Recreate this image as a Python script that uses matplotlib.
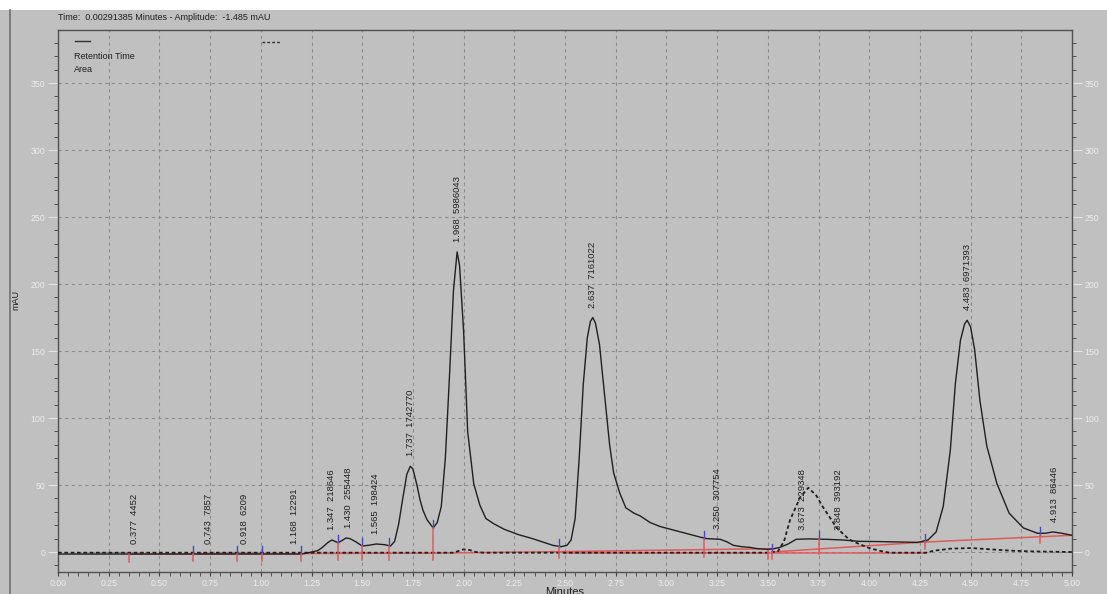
import numpy as np
import matplotlib.pyplot as plt
from matplotlib.ticker import MultipleLocator, FormatStrFormatter
from matplotlib.lines import Line2D
from matplotlib.patches import Rectangle

plt.rcParams['font.family'] = ['Liberation Sans', 'DejaVu Sans']

# solid trace, minutes / mAU
t_main = [0.00, 0.30, 0.60, 0.90, 1.10, 1.20, 1.22, 1.25, 1.28, 1.30, 1.33, 1.35,
          1.38, 1.40, 1.42, 1.44, 1.47, 1.50, 1.53, 1.57, 1.61, 1.64, 1.66, 1.68,
          1.70, 1.72, 1.737, 1.75, 1.77, 1.785, 1.80, 1.82, 1.85, 1.87, 1.89, 1.91,
          1.93, 1.95, 1.968, 1.98, 2.00, 2.02, 2.05, 2.08, 2.11, 2.15, 2.20, 2.27,
          2.34, 2.40, 2.44, 2.48, 2.51, 2.53, 2.55, 2.57, 2.59, 2.61, 2.625, 2.637,
          2.65, 2.67, 2.70, 2.72, 2.74, 2.77, 2.80, 2.84, 2.87, 2.92, 2.97, 3.02,
          3.07, 3.12, 3.17, 3.20, 3.265, 3.30, 3.33, 3.37, 3.41, 3.45, 3.50, 3.53,
          3.56, 3.60, 3.64, 3.70, 3.79, 3.87, 3.95, 4.05, 4.15, 4.24, 4.29, 4.33,
          4.365, 4.40, 4.425, 4.45, 4.47, 4.483, 4.50, 4.52, 4.546, 4.58, 4.63, 4.69,
          4.76, 4.83, 4.87, 4.905, 4.95, 5.00]
y_main = [-1.5, -1.5, -1.5, -1.5, -1.5, -1.5, -1.0, 0.0, 1.0, 3.0, 7.0, 9.0,
          7.0, 8.5, 10.5, 10.0, 7.5, 4.5, 5.0, 6.0, 5.5, 4.5, 8.0, 21.0,
          40.0, 58.0, 64.0, 62.0, 50.0, 39.0, 31.0, 24.0, 18.0, 22.0, 34.0, 70.0,
          130.0, 195.0, 224.0, 214.0, 165.0, 90.0, 51.0, 35.0, 25.0, 21.0, 17.0, 13.0,
          10.0, 7.0, 5.0, 4.0, 5.0, 9.0, 25.0, 70.0, 125.0, 160.0, 172.0, 175.0,
          171.0, 155.0, 110.0, 80.0, 59.0, 44.0, 33.0, 29.0, 27.0, 22.0, 19.0, 17.0,
          15.0, 13.0, 11.0, 10.0, 9.5, 7.5, 5.0, 4.0, 3.5, 2.5, 2.0, 2.5,
          3.5, 6.0, 9.5, 9.8, 9.5, 9.0, 8.0, 7.8, 7.5, 7.2, 9.0, 15.0,
          34.0, 76.0, 126.0, 158.0, 170.0, 173.0, 168.0, 151.0, 113.0, 79.0, 51.0, 29.0,
          18.0, 14.0, 14.0, 15.0, 14.0, 12.5]

# dotted trace
t_dot = [0.00, 0.50, 1.00, 1.50, 1.95, 1.98, 2.00, 2.03, 2.06, 2.10, 2.50, 3.00,
         3.50, 3.55, 3.58, 3.61, 3.66, 3.70, 3.74, 3.77, 3.84, 3.90, 3.95, 4.00,
         4.05, 4.10, 4.28, 4.32, 4.40, 4.50, 4.60, 4.70, 4.80, 5.00]
y_dot = [-0.5, -0.5, -0.5, -0.5, -0.5, 1.0, 2.0, 1.5, 0.0, -0.5, -0.5, -0.5,
         -0.5, 0.5, 8.0, 24.0, 41.0, 48.0, 42.0, 34.0, 18.0, 9.5, 6.0, 3.0,
         1.0, -0.5, -0.5, 1.0, 2.5, 3.0, 2.0, 1.0, 0.5, 0.0]

# integration baselines (red)
base1_t = [0.35, 1.85, 2.47]
base1_y = [-1.5, -0.8, 0.3]
base2_t = [2.47, 3.52]
base2_y = [0.3, 2.5]
base3_t = [3.52, 4.28]
base3_y = [0.0, 7.5]
base4_t = [4.28, 5.00]
base4_y = [7.5, 12.5]
base5_t = [2.50, 4.28]
base5_y = [-0.5, -0.5]

# peak start/end markers
mark_t = [0.667, 0.883, 1.006, 1.197, 1.379, 1.50, 1.63, 1.847, 2.47, 3.185, 3.52, 3.75, 4.275, 4.84]
mark_top = [-1.5, -1.5, -1.5, -1.5, 7.0, 4.5, 4.5, 18.0, 4.0, 10.0, 0.0, 9.5, 7.5, 13.0]
mark_base = [-1.5, -1.5, -1.5, -1.5, -1.0, -1.0, -0.8, -0.8, 0.3, 1.5, 0.0, 3.5, 7.5, 11.5]
red_only_t = [0.35, 3.50]
red_only_y = [-1.5, 1.0]

# peak labels
peak_rt = [0.377, 0.743, 0.918, 1.168, 1.347, 1.430, 1.565, 1.737, 1.968, 2.637,
           3.250, 3.673, 3.848, 4.483, 4.913]
peak_area = [4452, 7857, 6209, 12291, 218646, 255448, 198424, 1742770, 5986043, 7161022,
             307754, 229348, 393192, 6971393, 86446]
peak_height = [-1.5, -1.5, -1.5, -1.5, 9.0, 10.5, 6.0, 64.0, 224.0, 175.0,
               10.0, 9.0, 9.0, 173.0, 15.0]

bg = '#c0c0c0'
fig = plt.figure(figsize=(11.07, 5.94), dpi=100, facecolor=bg)
fig.patches.append(Rectangle((0, 1 - 10 / 594), 1, 10 / 594, transform=fig.transFigure,
                             facecolor='white', edgecolor='none'))
fig.lines.append(Line2D([9.5 / 1107, 9.5 / 1107], [0, 1 - 10 / 594], transform=fig.transFigure,
                        color='#707070', lw=1.2))

ax = fig.add_axes([58 / 1107, 1 - 572 / 594, (1072 - 58) / 1107, (572 - 30) / 594])
ax.set_facecolor(bg)

ax.plot(t_main, y_main, color='#202020', lw=1.0, zorder=4)
ax.plot(t_dot, y_dot, color='#202020', lw=1.3, linestyle=(0, (2, 1.5)), zorder=3)

red = '#e05a5a'
for bt, by in [(base1_t, base1_y), (base2_t, base2_y), (base3_t, base3_y),
               (base4_t, base4_y), (base5_t, base5_y)]:
    ax.plot(bt, by, color=red, lw=1.1, zorder=2)

for t, top, base in zip(mark_t, mark_top, mark_base):
    ax.plot([t, t], [top, top + 6], color='#4848c8', lw=1.0, zorder=5)
    ax.plot([t, t], [top, base - 5], color=red, lw=1.1, zorder=5)
for t, v in zip(red_only_t, red_only_y):
    ax.plot([t, t], [v, v - 6], color=red, lw=1.1, zorder=5)

for rt, area, h in zip(peak_rt, peak_area, peak_height):
    ax.annotate(f'{rt:.3f}  {area}', xy=(rt, h), xytext=(0, 7.2), textcoords='offset points',
                rotation=90, ha='center', va='bottom', fontsize=6.8, color='#202020', zorder=6)

ax.set_xlim(0, 5)
ax.set_ylim(-14.9, 389.6)
ax.xaxis.set_major_locator(MultipleLocator(0.25))
ax.xaxis.set_minor_locator(MultipleLocator(0.05))
ax.xaxis.set_major_formatter(FormatStrFormatter('%.2f'))
ax.yaxis.set_minor_locator(MultipleLocator(10))
ax.set_yticks([0, 50, 100, 150, 200, 250, 300, 350])

ax.grid(which='major', color='#8c8c8c', linestyle=(0, (3, 3)), lw=0.8)
ax.set_axisbelow(True)
for s in ax.spines.values():
    s.set_color('#505050')
    s.set_linewidth(1.0)

ax.tick_params(which='both', direction='out', labelsize=6.3, labelcolor='#ececec', pad=2)
ax.tick_params(axis='y', which='major', length=7, color='#e4e4e4', right=True, labelright=True)
ax.tick_params(axis='y', which='minor', length=3, color='#404040', right=True)
ax.tick_params(axis='x', which='major', length=3, color='#404040', pad=2)
ax.tick_params(axis='x', which='minor', length=3, color='#404040')

ax.set_ylabel('mAU', fontsize=6.5, color='#202020')
ax.yaxis.set_label_coords(-38 / 1014, (552 - 300) / 542 + 0.037)
ax.set_xlabel('Minutes', fontsize=8, color='#202020')
ax.xaxis.set_label_coords(0.5, -15 / 542)

fig.text(58 / 1107, 1 - 17 / 594, 'Time:  0.00291385 Minutes - Amplitude:  -1.485 mAU',
         fontsize=6.5, color='#202020', va='center', ha='left')

# legend drawn like the instrument software
ax.plot([0.084, 0.158], [381.6, 381.6], color='#303030', lw=1.0, clip_on=False)
ax.plot([1.006, 1.095], [380.8, 380.8], color='#303030', lw=1.0, linestyle=(0, (2, 1.5)), clip_on=False)
ax.text(0.079, 369.6, 'Retention Time', fontsize=6.5, color='#202020', va='center', ha='left')
ax.text(0.079, 360.4, 'Area', fontsize=6.5, color='#202020', va='center', ha='left')

fig.savefig('out.png', dpi=100, facecolor=bg)
